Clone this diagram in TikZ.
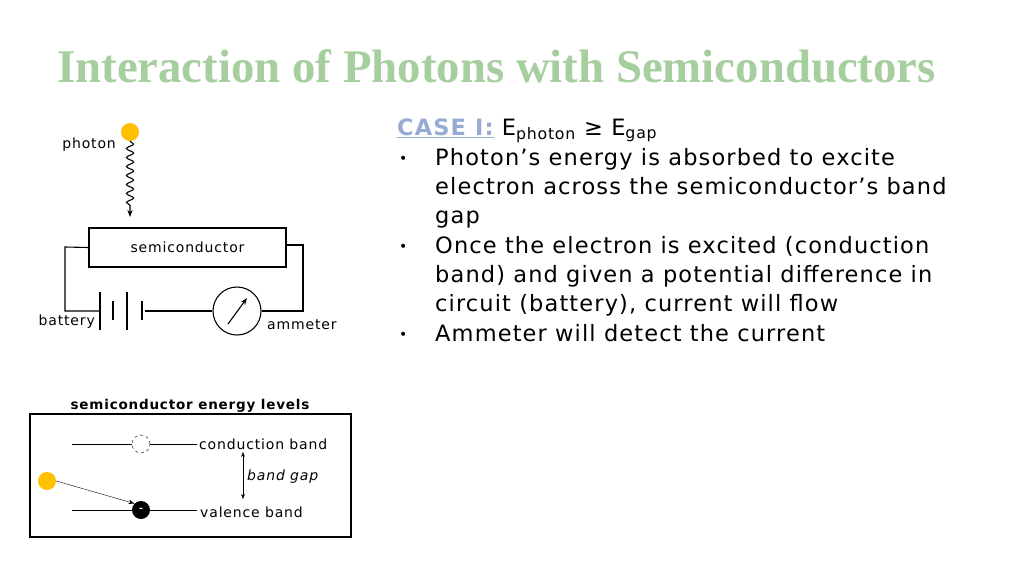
\documentclass[tikz,border=0pt]{standalone}
\usepackage{fontspec}
\setmainfont{DejaVu Sans}
\newfontfamily\titlefont{Liberation Serif}
\newfontfamily\widefont[LetterSpace=5]{DejaVu Sans}
\newfontfamily\smallfont[LetterSpace=6]{DejaVu Sans}
\usetikzlibrary{decorations.pathmorphing,arrows.meta}
\definecolor{titlegreen}{RGB}{166,206,158}
\definecolor{caseblue}{RGB}{150,172,212}
\definecolor{photonyellow}{RGB}{255,192,0}
\begin{document}
\begin{tikzpicture}[x=1pt,y=-1pt,
    wire/.style={line width=1.1pt},
    small/.style={font=\smallfont\fontsize{14}{17}\selectfont, inner sep=0pt},
    body/.style={font=\widefont\fontsize{22.5}{27}\selectfont, inner sep=0pt, anchor=base west},
    photon/.style={circle, fill=photonyellow, minimum size=18pt, inner sep=0pt}]
    % Page
    \useasboundingbox[fill=white] (0,0) rectangle (1024,576);
    \node[anchor=base west, inner sep=0pt, text=titlegreen, font=\titlefont\bfseries\fontsize{46.8}{50}\selectfont] (title) at (57,82) {Interaction of Photons with Semiconductors};

    % Case text
    \node[body] (case) at (397,135) {\textcolor{caseblue}{\bfseries\underline{CASE I:}} E\textsubscript{photon} ≥ E\textsubscript{gap}};
    \foreach \y/\t in {165/{Photon’s energy is absorbed to excite},194/{electron across the semiconductor’s band},223/{gap},253/{Once the electron is excited (conduction},282/{band) and given a potential difference in},311/{circuit (battery), current will flow},341/{Ammeter will detect the current}}
        \node[body] at (435,\y) {\t};
    \foreach \y in {165,253,341}
        \node[body, font=\fontsize{14}{17}\selectfont] at (399,\y-2) {•};

    % Circuit
    \node[photon] (ph) at (130,132) {};
    \node[small, anchor=base east] (phlabel) at (116,148) {photon};
    \coordinate (arrowend) at (130,217);
    \draw[wire, decorate, decoration={snake, amplitude=3.5pt, segment length=9pt, post length=10pt}, -{Stealth[length=7pt]}] (ph.south) -- (arrowend);
    \node[draw, wire, minimum width=197pt, minimum height=39pt, inner sep=0pt, font=\smallfont\fontsize{14}{17}\selectfont] (semi) at (187.5,247.5) {semiconductor};
    \node[draw, wire, circle, minimum size=48pt, inner sep=0pt] (amm) at (237,311) {};
    \draw[-{Stealth[length=7pt]}, wire] (228,324) -- (247,298);
    \coordinate (bat) at (100,311);
    \draw[wire] (semi.west) -- (65,247) -- (65,311) -- (bat);
    \draw[wire] (100,292) -- (100,330) (127,292) -- (127,330)
                (113,301) -- (113,320) (142,301) -- (142,320);
    \draw[wire] (145,311) -- (amm.west);
    \draw[wire] (amm.east) -- (303,311) -- (303,245) -- (semi.east |- 0,245);
    \node[small, anchor=base east] (batlabel) at (95,325) {battery};
    \node[small, anchor=base west] (amlabel) at (267,329) {ammeter};

    % Energy levels
    \node[small, font=\smallfont\bfseries\fontsize{13.5}{16}\selectfont, anchor=base] (eltitle) at (190,409) {semiconductor energy levels};
    \draw[wire] (30,414) rectangle (351,537);
    \node[circle, draw, dashed, minimum size=18pt, inner sep=0pt] (hole) at (141,444) {};
    \node[circle, fill=black, minimum size=18pt, inner sep=0pt, text=white, font=\bfseries\small] (el) at (141,510) {-};
    \node[photon] (ph2) at (47,481) {};
    \draw (72,444) -- (hole.west) (hole.east) -- (197,444);
    \draw (72,510) -- (el.west) (el.east) -- (197,510);
    \draw[-{Stealth[length=6pt]}] (ph2.east) -- (el.north west);
    \node[small, anchor=base west] (cb) at (199,449) {conduction band};
    \node[small, anchor=base west] (vb) at (200,517) {valence band};
    \draw[{Stealth[length=5pt]}-{Stealth[length=5pt]}] (243,452) -- (243,499);
    \node[small, anchor=base west, font=\smallfont\itshape\fontsize{14}{17}\selectfont] (gap) at (247,480) {band gap};
\end{tikzpicture}
\end{document}
